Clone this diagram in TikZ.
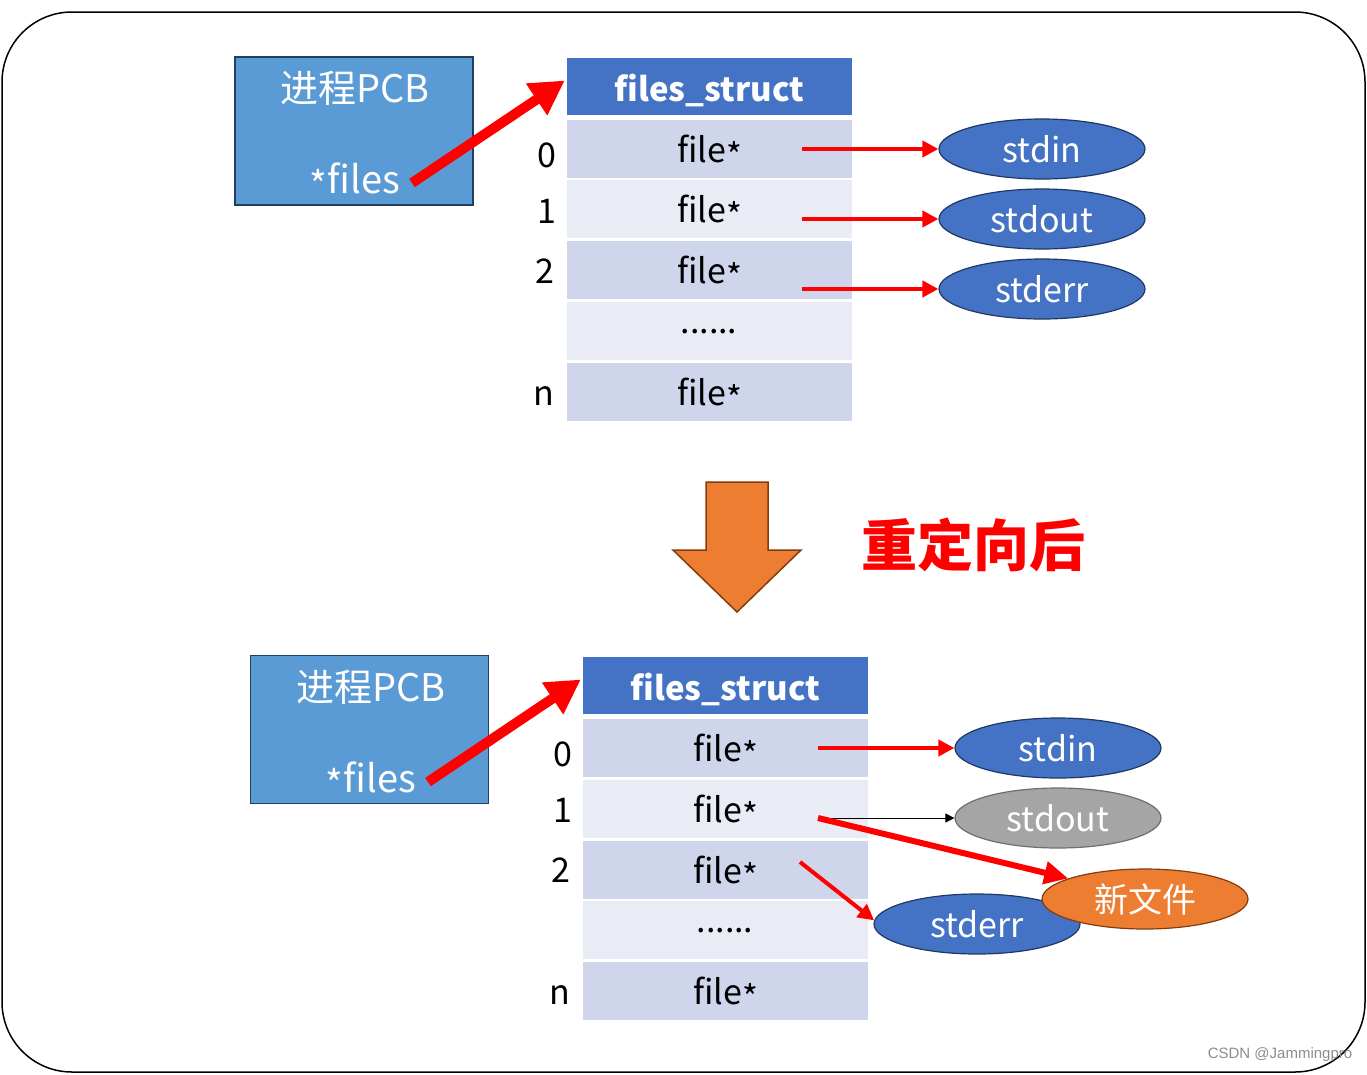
\documentclass[tikz,border=0pt]{standalone}
\usepackage{fontspec}
\setmainfont{Noto Sans CJK SC}
\newfontfamily\wmfont{Liberation Sans}
\usetikzlibrary{shapes.geometric,arrows.meta}
\definecolor{pcbfill}{HTML}{5B9BD5}
\definecolor{pcbline}{HTML}{223F5E}
\definecolor{hdr}{HTML}{4472C4}
\definecolor{rowA}{HTML}{CFD5EA}
\definecolor{rowB}{HTML}{E9EBF5}
\definecolor{ellline}{HTML}{1F3864}
\definecolor{grayfill}{HTML}{A5A5A5}
\definecolor{grayline}{HTML}{6E6E6E}
\definecolor{orangef}{HTML}{ED7D31}
\definecolor{orangel}{HTML}{843C0C}
\newcommand\lowstar{\smash{\raisebox{-0.18em}{*}}}
\tikzset{
  big/.style={font=\fontsize{34}{40}\selectfont},
  pcbbox/.style={draw=pcbline,line width=1.5pt,fill=pcbfill,minimum width=238pt,minimum height=148pt,inner sep=0pt},
  pcbtxt/.style={text=white,font=\fontsize{38}{44}\selectfont,inner sep=0pt},
  hdrbox/.style={fill=hdr,minimum width=285pt,minimum height=57pt,inner sep=0pt},
  hdrtxt/.style={inner sep=0pt,text=white,font=\fontsize{33}{40}\selectfont\bfseries},
  rowa/.style={fill=rowA,minimum width=285pt,minimum height=58pt,inner sep=0pt,big},
  rowb/.style={fill=rowB,minimum width=285pt,minimum height=58pt,inner sep=0pt,big},
  fdbase/.style={ellipse,line width=1.2pt,minimum width=206pt,minimum height=60pt,inner sep=0pt,text=white,big},
  fdblue/.style={fdbase,draw=ellline,fill=hdr},
  fdgray/.style={fdbase,draw=grayline,fill=grayfill},
  fdorange/.style={fdbase,draw=orangel,fill=orangef},
  idx/.style={big,inner sep=0pt},
  redarr/.style={draw=red,line width=4pt,-{Triangle[length=16pt,width=16pt]}},
  pcbarr/.style={draw=red,line width=10pt,-{Triangle[length=34pt,width=36pt]}},
  bigred/.style={draw=red,line width=6pt,-{Triangle[length=24pt,width=22pt]}},
  thinarr/.style={draw=black,line width=0.8pt,-{Triangle[length=9pt,width=9pt]}},
}
\begin{document}
\begin{tikzpicture}[x=1pt,y=-1pt]
\useasboundingbox (0,0) rectangle (1367,1074);
\draw[line width=1.5pt,rounded corners=70pt] (2,12) rectangle (1365,1072);

% ---------- top ----------
\node[pcbbox] (pcb1) at (354,131) {};
\node[pcbtxt] (pcb1t) at (355,88) {进程PCB};
\node[pcbtxt] (pcb1f) at (355,178) {\lowstar files};

\node[hdrbox] (h1) at (709.5,86.5) {};
\node[hdrtxt] (h1t) at (709.5,90) {files\_struct};
\node[rowa] (r10) at (709.5,149) {file\lowstar};
\node[rowb] (r11) at (709.5,209) {file\lowstar};
\node[rowa] (r12) at (709.5,270) {file\lowstar};
\node[rowb] (r13) at (709.5,331) {};
\node[big,anchor=base,inner sep=0pt] (d1) at (709,333) {......};
\node[rowa] (r1n) at (709.5,392) {file\lowstar};

\node[idx] (i10) at (547,155) {0};
\node[idx] (i11) at (547,211) {1};
\node[idx] (i12) at (545,271) {2};
\node[idx] (i1n) at (544,396) {n};

\node[fdblue] (in1) at (1042,149) {stdin};
\node[fdblue] (out1) at (1042,219) {stdout};
\node[fdblue] (err1) at (1042,289) {stderr};

\coordinate (a10) at (802,149);
\coordinate (a11) at (802,219);
\coordinate (a12) at (802,289);
\draw[redarr] (a10) -- (in1.west);
\draw[redarr] (a11) -- (out1.west);
\draw[redarr] (a12) -- (err1.west);

\coordinate (p1) at (412,183);
\draw[pcbarr] (p1) -- ([xshift=-2pt,yshift=6pt]h1.west);

% ---------- middle ----------
\draw[fill=orangef,draw=orangel,line width=1.5pt]
  (706,482) -- (768,482) -- (768,550) -- (801,550) -- (737,612) -- (673,550) -- (706,550) -- cycle;
\node[text=red,font=\fontsize{56}{62}\selectfont\bfseries,inner sep=0pt] (redir) at (973,545) {重定向后};

% ---------- bottom ----------
\node[pcbbox] (pcb2) at (369.5,729.5) {};
\node[pcbtxt] (pcb2t) at (371,687) {进程PCB};
\node[pcbtxt] (pcb2f) at (371,777) {\lowstar files};

\node[hdrbox] (h2) at (725.5,685.5) {};
\node[hdrtxt] (h2t) at (725.5,689) {files\_struct};
\node[rowa] (r20) at (725.5,748) {file\lowstar};
\node[rowb] (r21) at (725.5,809) {file\lowstar};
\node[rowa] (r22) at (725.5,870) {file\lowstar};
\node[rowb] (r23) at (725.5,930) {};
\node[big,anchor=base,inner sep=0pt] (d2) at (725,932) {......};
\node[rowa] (r2n) at (725.5,991) {file\lowstar};

\node[idx] (i20) at (563,754) {0};
\node[idx] (i21) at (563,810) {1};
\node[idx] (i22) at (561,870) {2};
\node[idx] (i2n) at (560,995) {n};

\node[fdblue] (in2) at (1058,748) {stdin};
\node[fdgray] (out2) at (1058,818) {stdout};
\node[fdblue] (err2) at (977,924) {stderr};
\node[fdorange] (nf) at (1145,899) {新文件};

\coordinate (a20) at (818,748);
\coordinate (a21) at (818,818);
\coordinate (a22) at (800,862);
\draw[redarr] (a20) -- (in2.west);
\draw[thinarr] (a21) -- (out2.west);
\draw[bigred] (a21) -- (nf.165);
\draw[redarr,line width=4pt] (a22) -- (err2.178);

\coordinate (p2) at (428,782);
\draw[pcbarr] (p2) -- ([xshift=-2pt,yshift=6pt]h2.west);

\node[text=black!45,font=\wmfont\fontsize{15}{17}\selectfont,inner sep=0pt] (wm) at (1280,1055) {CSDN @Jammingpro};
\end{tikzpicture}
\end{document}
